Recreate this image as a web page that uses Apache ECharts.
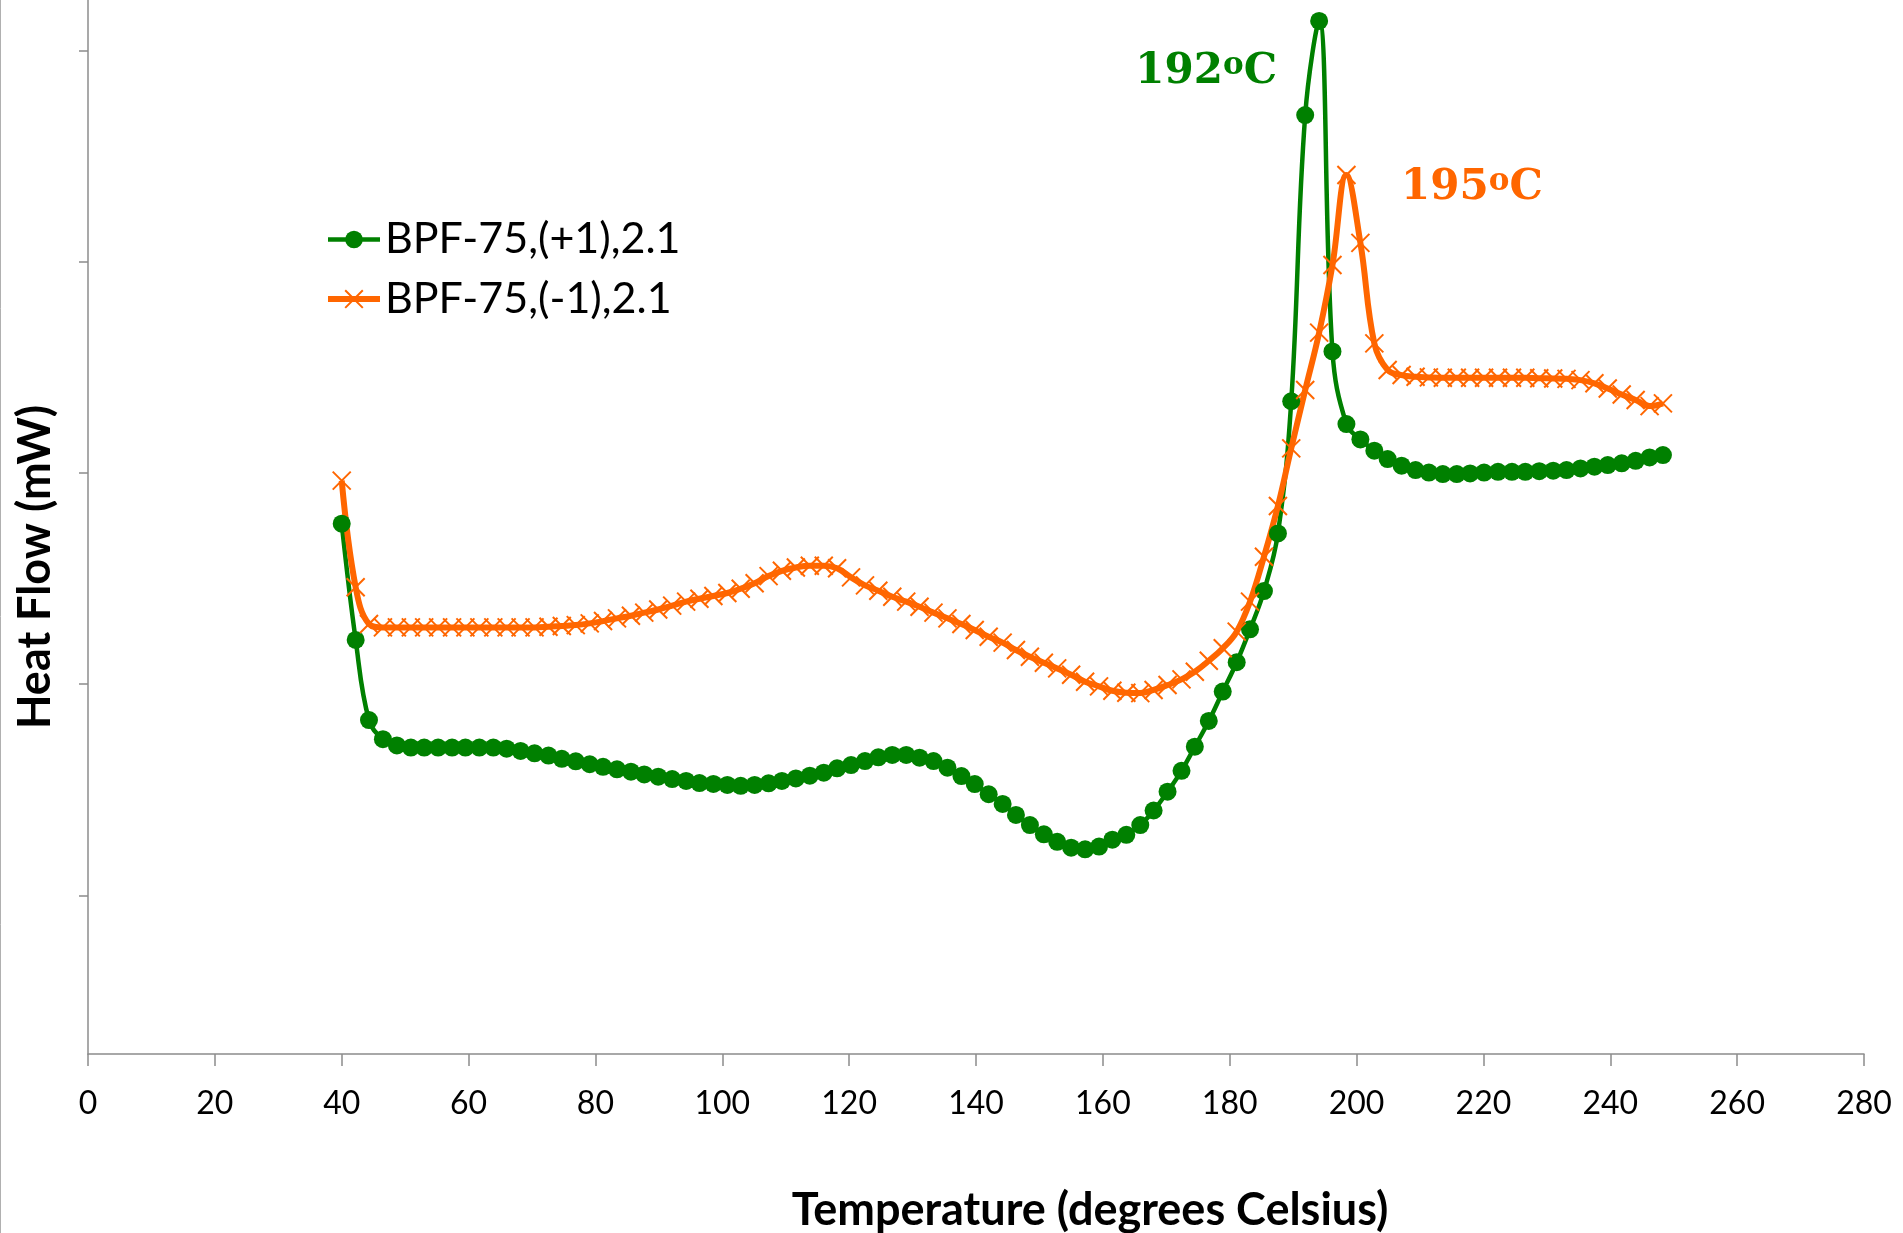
<!DOCTYPE html>
<html>
<head>
<meta charset="utf-8">
<title>BPF-75 DSC</title>
<script src="https://cdn.jsdelivr.net/npm/echarts@6/dist/echarts.min.js"></script>
<style>
    html, body { margin: 0; padding: 0; background: #fff; }
    #dscChart { width: 1903px; height: 1233px; }
</style>
</head>
<body>
<div id="dscChart"></div>
<script>
/* DSC曲线：BPF-75 两个样品的热流-温度图 */

// 温度（°C），两条曲线共用
var temps = [
    40.0, 42.2, 44.3, 46.5, 48.7, 50.9, 53.0, 55.2, 57.4, 59.5,
    61.7, 63.9, 66.0, 68.2, 70.4, 72.6, 74.7, 76.9, 79.1, 81.2,
    83.4, 85.6, 87.7, 89.9, 92.1, 94.3, 96.4, 98.6, 100.8, 102.9,
    105.1, 107.3, 109.4, 111.6, 113.8, 116.0, 118.1, 120.3, 122.5, 124.6,
    126.8, 129.0, 131.1, 133.3, 135.5, 137.7, 139.8, 142.0, 144.2, 146.3,
    148.5, 150.7, 152.8, 155.0, 157.2, 159.4, 161.5, 163.7, 165.9, 168.0,
    170.2, 172.4, 174.5, 176.7, 178.9, 181.1, 183.2, 185.4, 187.6, 189.7,
    191.9, 194.1, 196.2, 198.4, 200.6, 202.8, 204.9, 207.1, 209.3, 211.4,
    213.6, 215.8, 217.9, 220.1, 222.3, 224.5, 226.6, 228.8, 231.0, 233.1,
    235.3, 237.5, 239.6, 241.8, 244.0, 246.2, 248.3
];

// BPF-75,(+1),2.1 热流 (mW)
var flowPlus = [
    1.76, 1.21, 0.83, 0.74, 0.71, 0.70, 0.70, 0.70, 0.70, 0.70,
    0.70, 0.70, 0.695, 0.684, 0.673, 0.662, 0.647, 0.635, 0.621, 0.609,
    0.597, 0.586, 0.573, 0.562, 0.551, 0.542, 0.532, 0.528, 0.523, 0.519,
    0.523, 0.531, 0.542, 0.554, 0.567, 0.581, 0.602, 0.617, 0.636, 0.654,
    0.665, 0.665, 0.652, 0.636, 0.605, 0.565, 0.527, 0.479, 0.433, 0.381,
    0.333, 0.289, 0.254, 0.226, 0.218, 0.231, 0.264, 0.287, 0.333, 0.402,
    0.491, 0.590, 0.704, 0.826, 0.965, 1.104, 1.260, 1.441, 1.714, 2.34,
    3.695, 4.141, 2.576, 2.232, 2.159, 2.106, 2.066, 2.035, 2.014, 2.002,
    1.995, 1.995, 1.998, 2.002, 2.006, 2.006, 2.006, 2.009, 2.011, 2.014,
    2.022, 2.030, 2.038, 2.046, 2.058, 2.074, 2.085
];

// BPF-75,(-1),2.1 热流 (mW)
var flowMinus = [
    1.964, 1.459, 1.285, 1.269, 1.269, 1.269, 1.269, 1.269, 1.269, 1.269,
    1.269, 1.269, 1.269, 1.269, 1.269, 1.272, 1.276, 1.280, 1.288, 1.299,
    1.312, 1.324, 1.339, 1.354, 1.372, 1.391, 1.405, 1.418, 1.432, 1.452,
    1.478, 1.512, 1.537, 1.553, 1.561, 1.561, 1.549, 1.506, 1.468, 1.443,
    1.414, 1.391, 1.367, 1.339, 1.312, 1.285, 1.257, 1.225, 1.197, 1.162,
    1.130, 1.102, 1.075, 1.045, 1.012, 0.990, 0.969, 0.960, 0.958, 0.973,
    0.996, 1.023, 1.059, 1.111, 1.170, 1.249, 1.391, 1.604, 1.844, 2.117,
    2.393, 2.665, 2.985, 3.411, 3.090, 2.614, 2.488, 2.464, 2.456, 2.453,
    2.451, 2.451, 2.451, 2.451, 2.451, 2.451, 2.451, 2.449, 2.448, 2.446,
    2.440, 2.425, 2.400, 2.372, 2.346, 2.317, 2.330
];

var seriesNames = ['BPF-75,(+1),2.1', 'BPF-75,(-1),2.1'];
var yTickValues = [0, 1, 2, 3, 4]; // 纵轴刻度（无数字标签）
var peakTemps = ['192', '195'];     // 峰值标注

var green = '#008000';
var orange = '#ff6600';
var crossSymbol = 'path://M0,0L20,20M20,0L0,20';

// function: 把温度数组和热流数组拼成 [x, y] 点
function toPoints(xs, ys) {
    var arr = [];
    for (var i = 0; i < xs.length; i++) {
        arr.push([xs[i], ys[i]]);
    }
    return arr;
}

// function: 峰值温度标注（上标 o）
function peakLabel(temp, coord, color) {
    return {
        coord: coord,
        symbol: 'circle',
        symbolSize: 1,
        itemStyle: { color: 'rgba(0,0,0,0)' },
        label: {
            show: true,
            position: 'inside',
            formatter: temp + '{o|o}C',
            color: color,
            fontFamily: 'DejaVu Serif',
            fontWeight: 'bold',
            fontSize: 42,
            rich: {
                o: {
                    color: color,
                    fontFamily: 'DejaVu Serif',
                    fontWeight: 'bold',
                    fontSize: 31,
                    verticalAlign: 'top'
                }
            }
        }
    };
}

var dom = document.getElementById('dscChart');
var myChart = echarts.init(dom);

var axisGray = '#8c8c8c';

var option = {
    animation: false,
    backgroundColor: '#fff',
    grid: {
        left: 88,
        right: 39,
        top: 0,
        bottom: 179,
        outerBoundsMode: 'none' // 不让坐标轴名称挤压绘图区
    },
    legend: {
        orient: 'vertical',
        left: 320,
        top: 213,
        itemWidth: 52,
        itemHeight: 22,
        itemGap: 16.6,
        data: seriesNames,
        lineStyle: { width: 'inherit' },
        itemStyle: { borderWidth: 'inherit' },
        textStyle: {
            fontFamily: 'Lato',
            fontSize: 43,
            lineHeight: 40,
            color: '#000'
        }
    },
    xAxis: {
        type: 'value',
        min: 0,
        max: 280,
        interval: 20,
        name: 'Temperature (degrees Celsius)',
        nameLocation: 'middle',
        nameGap: 134,
        nameTextStyle: {
            fontFamily: 'Lato',
            fontWeight: 'bold',
            fontSize: 45,
            color: '#000',
            padding: [0, 0, 0, 228]
        },
        axisLine: { onZero: false, lineStyle: { color: axisGray, width: 1.5 } },
        axisTick: { length: 12, lineStyle: { color: axisGray, width: 1.5 } },
        axisLabel: {
            margin: 34,
            fontFamily: 'Lato',
            fontSize: 32,
            color: '#000'
        },
        splitLine: { show: false }
    },
    yAxis: {
        type: 'value',
        min: -0.751,
        max: 4.24,
        name: 'Heat Flow (mW)',
        nameLocation: 'middle',
        nameGap: 30,
        nameTextStyle: {
            fontFamily: 'Lato',
            fontWeight: 'bold',
            fontSize: 45,
            color: '#000',
            padding: [0, 80, 0, 0]
        },
        axisLine: { show: true, lineStyle: { color: axisGray, width: 1.5 } },
        axisTick: {
            show: true,
            length: 9,
            customValues: yTickValues,
            lineStyle: { color: axisGray, width: 1.5 }
        },
        axisLabel: { show: false },
        splitLine: { show: false }
    },
    graphic: [{
        type: 'line',
        shape: { x1: 0.5, y1: 0, x2: 0.5, y2: 1233 },
        style: { stroke: '#b0b0b0', lineWidth: 1 }
    }],
    series: [{
        name: seriesNames[0],
        type: 'line',
        smooth: 0.4,
        symbol: 'circle',
        symbolSize: 18,
        data: toPoints(temps, flowPlus),
        lineStyle: { color: green, width: 4.5 },
        itemStyle: { color: green },
        markPoint: {
            data: [peakLabel(peakTemps[0], [176.3, 3.90], green)]
        }
    }, {
        name: seriesNames[1],
        type: 'line',
        smooth: 0.4,
        symbol: crossSymbol,
        symbolSize: 18,
        data: toPoints(temps, flowMinus),
        lineStyle: { color: orange, width: 6 },
        itemStyle: { color: orange, borderColor: orange, borderWidth: 2 },
        markPoint: {
            data: [peakLabel(peakTemps[1], [218.2, 3.35], orange)]
        }
    }]
};

myChart.setOption(option);
</script>
</body>
</html>
